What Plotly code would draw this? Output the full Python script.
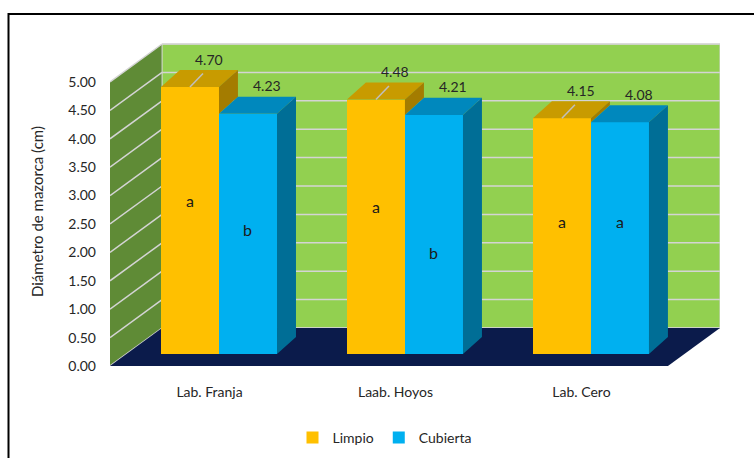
import plotly.graph_objects as go

# ---------------- data ----------------
categories = ["Lab. Franja", "Laab. Hoyos", "Lab. Cero"]
series_names = ["Limpio", "Cubierta"]
limpio = [4.70, 4.48, 4.15]
cubierta = [4.23, 4.21, 4.08]
letters_limpio = ["a", "a", "a"]
letters_cubierta = ["b", "b", "a"]
letter_y_limpio = [2.92, 2.80, 2.55]
letter_y_cubierta = [2.41, 1.99, 2.54]
y_ticks = [0.0, 0.5, 1.0, 1.5, 2.0, 2.5, 3.0, 3.5, 4.0, 4.5, 5.0]

# ---------------- geometry / styles ----------------
W, H = 754, 458
L, R, T, B = 110, 34, 42, 92
PW, PH = W - L - R, H - T - B
XR = [-0.5, 2.78]
YR = [0, 5.704]
DX, DY = 0.28, 0.669        # wall depth offset
DXB, DYB = 0.086, 0.211     # bar front offset
DDX, DDY = 0.102, 0.30      # bar depth
BW = 0.312                  # bar width
YMAX = 5.0

FONT = "Lato"
TXT = "#262626"
C_BACK = "#92D050"
C_LEFT = "#5F8B36"
C_FLOOR = "#0B1B4B"
C_GRID = "#D4D4D4"
COL = {
    "Limpio": ("#FFC000", "#C89B00", "#A47C00"),
    "Cubierta": ("#00B0F0", "#0088BD", "#006E96"),
}


def px2paper_x(px):
    return (px - L) / PW


def px2paper_y(py):
    return (H - B - py) / PH


def poly(pts):
    return "M " + " L ".join(f"{x},{y}" for x, y in pts) + " Z"


shapes = []
# left wall
shapes.append(dict(type="path", xref="x", yref="y", layer="below",
                   path=poly([(-0.5, 0), (-0.5, YMAX), (-0.5 + DX, YMAX + DY), (-0.5 + DX, DY)]),
                   fillcolor=C_LEFT, line=dict(width=0)))
# back wall
shapes.append(dict(type="path", xref="x", yref="y", layer="below",
                   path=poly([(-0.5 + DX, DY), (-0.5 + DX, YMAX + DY), (2.5 + DX, YMAX + DY), (2.5 + DX, DY)]),
                   fillcolor=C_BACK, line=dict(width=1, color=C_GRID)))
# gridlines
for v in y_ticks:
    shapes.append(dict(type="line", xref="x", yref="y", layer="below",
                       x0=-0.5, y0=v, x1=-0.5 + DX, y1=v + DY,
                       line=dict(color=C_GRID, width=1.5)))
    shapes.append(dict(type="line", xref="x", yref="y", layer="below",
                       x0=-0.5 + DX, y0=v + DY, x1=2.5 + DX, y1=v + DY,
                       line=dict(color=C_GRID, width=1.5)))
# floor
shapes.append(dict(type="path", xref="x", yref="y", layer="below",
                   path=poly([(-0.5, 0), (2.5, 0), (2.5 + DX, DY), (-0.5 + DX, DY)]),
                   fillcolor=C_FLOOR, line=dict(width=0)))

fig = go.Figure()
annotations = []

for s_idx, (name, vals) in enumerate([("Limpio", limpio), ("Cubierta", cubierta)]):
    front, top, side = COL[name]
    xs = [i + DXB + (s_idx - 0.5) * BW for i in range(len(categories))]
    fig.add_trace(go.Bar(x=xs, y=vals, base=DYB, width=BW, name=name,
                         marker=dict(color=front, line=dict(width=0)),
                         hovertemplate="%{y:.2f}<extra>" + name + "</extra>"))
    for i, v in enumerate(vals):
        xl = xs[i] - BW / 2
        xr = xs[i] + BW / 2
        yt = v + DYB
        # top face
        shapes.append(dict(type="path", xref="x", yref="y", layer="above",
                           path=poly([(xl, yt), (xr, yt), (xr + DDX, yt + DDY), (xl + DDX, yt + DDY)]),
                           fillcolor=top, line=dict(width=0)))
        # side face (for Limpio only the part above Cubierta is visible)
        ybot = DYB if name == "Cubierta" else min(cubierta[i], v) + DYB
        shapes.append(dict(type="path", xref="x", yref="y", layer="above",
                           path=poly([(xr, ybot), (xr, yt), (xr + DDX, yt + DDY), (xr + DDX, ybot + DDY)]),
                           fillcolor=side, line=dict(width=0)))
        # value label
        annotations.append(dict(x=xs[i] + DDX, y=yt + DDY, xref="x", yref="y",
                                text=f"{v:.2f}", showarrow=False, yshift=11,
                                font=dict(family=FONT, size=14, color=TXT)))
        if name == "Limpio":
            shapes.append(dict(type="line", xref="x", yref="y", layer="above",
                               x0=xs[i], y0=yt, x1=xs[i] + 0.07, y1=yt + 0.24,
                               line=dict(color="#BFBFBF", width=1.5)))
        # significance letter
        ly = (letter_y_limpio if name == "Limpio" else letter_y_cubierta)[i]
        lt = (letters_limpio if name == "Limpio" else letters_cubierta)[i]
        annotations.append(dict(x=xs[i], y=ly, xref="x", yref="y", text=lt,
                                showarrow=False,
                                font=dict(family=FONT, size=16, color="#1a1a1a")))

# axis title
annotations.append(dict(x=px2paper_x(37), y=px2paper_y(212), xref="paper", yref="paper",
                        xanchor="center", yanchor="middle",
                        text="Diámetro de mazorca (cm)", textangle=-90, showarrow=False,
                        font=dict(family=FONT, size=15, color=TXT)))

# outer frame
shapes.append(dict(type="rect", xref="paper", yref="paper", layer="above",
                   x0=px2paper_x(8.5), y0=px2paper_y(475), x1=px2paper_x(765), y1=px2paper_y(14),
                   line=dict(color="black", width=2), fillcolor="rgba(0,0,0,0)"))

fig.update_layout(
    width=W, height=H,
    margin=dict(l=L, r=R, t=T, b=B, pad=0, autoexpand=False),
    paper_bgcolor="white", plot_bgcolor="white",
    barmode="overlay", bargap=0,
    shapes=shapes, annotations=annotations,
    font=dict(family=FONT, size=13, color=TXT),
    showlegend=True,
    legend=dict(orientation="h", x=385 / W, xanchor="center", xref="container",
                y=1 - 438 / H, yanchor="middle", yref="container",
                font=dict(family=FONT, size=14, color=TXT),
                itemwidth=30, bgcolor="rgba(0,0,0,0)"),
    xaxis=dict(range=XR, showgrid=False, zeroline=False, showline=False,
               tickvals=[i + 0.035 for i in range(len(categories))], ticktext=categories,
               ticks="", ticklabelstandoff=16, automargin=False,
               tickfont=dict(family=FONT, size=14, color=TXT),
               fixedrange=True),
    yaxis=dict(range=YR, showgrid=False, zeroline=False, showline=False,
               tickvals=y_ticks, tickformat=".2f", ticks="", automargin=False,
               ticklabelstandoff=13, tickfont=dict(family=FONT, size=14, color=TXT),
               fixedrange=True),
)

fig.write_html("out.html")
